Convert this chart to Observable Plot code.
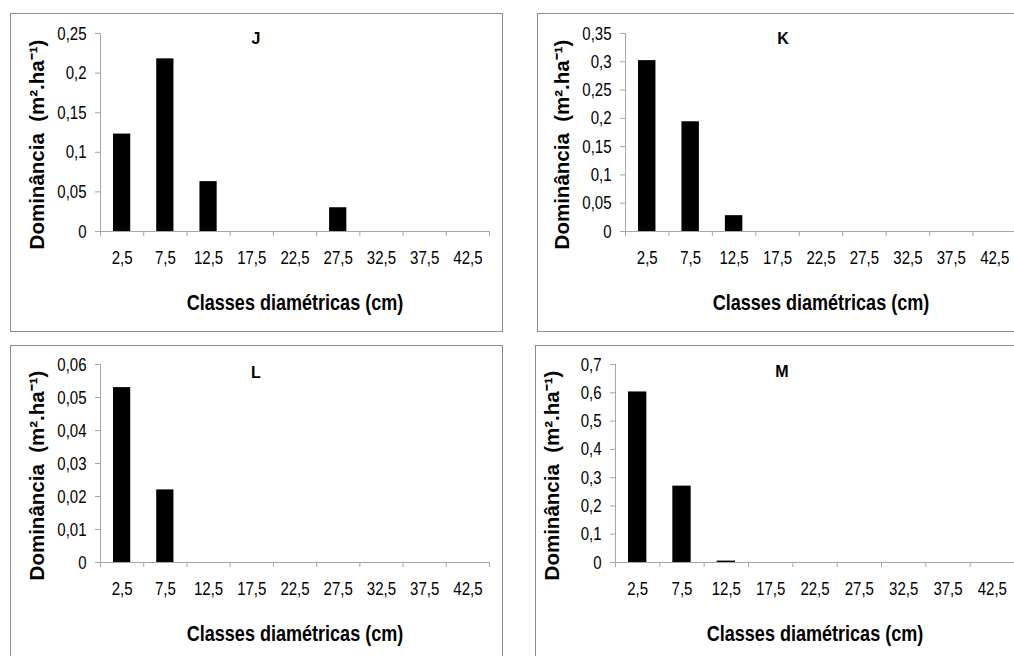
<!DOCTYPE html>
<html>
<head>
<meta charset="utf-8">
<script src="https://cdn.jsdelivr.net/npm/d3@7"></script>
<script src="https://cdn.jsdelivr.net/npm/@observablehq/plot@0.6"></script>
<style>
  html, body { margin: 0; padding: 0; background: #fff; }
  body { width: 1014px; height: 656px; overflow: hidden; position: relative; }
  .panel { position: absolute; border: 1px solid #8c8c8c; box-sizing: border-box; background: #fff; }
  .panel svg { position: absolute; left: 0; top: 0; overflow: visible; }
  .panel g[aria-label="x-axis label"] text {
    font-family: "Liberation Sans", Arial, sans-serif; font-weight: bold; font-size: 22px;
  }
</style>
</head>
<body>
<script>
// ---- data ----
const classes = [2.5, 7.5, 12.5, 17.5, 22.5, 27.5, 32.5, 37.5, 42.5];
const classLabels = ["2,5", "7,5", "12,5", "17,5", "22,5", "27,5", "32,5", "37,5", "42,5"];
const classEdges = [0, 5, 10, 15, 20, 25, 30, 35, 40, 45];

const valuesJ = [0.123, 0.218, 0.063, 0, 0, 0.030, 0, 0, 0];
const valuesK = [0.302, 0.194, 0.028, 0, 0, 0, 0, 0, 0];
const valuesL = [0.053, 0.022, 0, 0, 0, 0, 0, 0, 0];
const valuesM = [0.603, 0.270, 0.005, 0, 0, 0, 0, 0, 0];

const yTicksJ = [0, 0.05, 0.1, 0.15, 0.2, 0.25];
const yTicksK = [0, 0.05, 0.1, 0.15, 0.2, 0.25, 0.3, 0.35];
const yTicksL = [0, 0.01, 0.02, 0.03, 0.04, 0.05, 0.06];
const yTicksM = [0, 0.1, 0.2, 0.3, 0.4, 0.5, 0.6, 0.7];

const yTitle = "Dominância  (m².ha⁻¹)";
const xTitle = "Classes diamétricas (cm)";

// ---- layout / style ----
const FONT = '"Liberation Sans", Arial, sans-serif';
const AXIS = "#a6a6a6";
const binHalf = 2.5;
const NARROW = 0.79;

const panels = [
  {title: "J", values: valuesJ, yTicks: yTicksJ, left: 10, top: 13, ml: 89, mt: 19, tdx: -39, tdy: 5},
  {title: "K", values: valuesK, yTicks: yTicksK, left: 537, top: 13, ml: 87, mt: 19, tdx: -38, tdy: 5},
  {title: "L", values: valuesL, yTicks: yTicksL, left: 10, top: 345, ml: 89, mt: 18, tdx: -39, tdy: 8},
  {title: "M", values: valuesM, yTicks: yTicksM, left: 535, top: 345, ml: 79, mt: 18, tdx: -33, tdy: 7}
];

const fmtY = v => String(+v.toFixed(3)).replace(".", ",");

// horizontally condense text (Arial Narrow look) without moving its anchor
function condense(svg, selector, s) {
  svg.querySelectorAll(selector).forEach(t => {
    const tr = t.getAttribute("transform") || "";
    t.setAttribute("transform", `${tr} scale(${s},1)`.trim());
  });
}

for (const p of panels) {
  const div = document.createElement("div");
  div.className = "panel";
  div.style.left = p.left + "px";
  div.style.top = p.top + "px";
  div.style.width = "493px";
  div.style.height = "319px";
  document.body.appendChild(div);

  const W = 491, H = 317, PH = 198;
  const data = classes.map((c, i) => ({c, v: p.values[i]})).filter(d => d.v > 0);

  const chart = Plot.plot({
    width: W,
    height: H,
    marginLeft: p.ml,
    marginRight: 13,
    marginTop: p.mt,
    marginBottom: H - p.mt - PH,
    style: {fontFamily: FONT, fontSize: "19px", color: "#000", background: "transparent", overflow: "visible"},
    x: {domain: [classEdges[0], classEdges[classEdges.length - 1]]},
    y: {domain: [0, p.yTicks[p.yTicks.length - 1]]},
    marks: [
      Plot.rect(data, {x1: d => d.c - binHalf, x2: d => d.c + binHalf, y1: 0, y2: "v", fill: "#000", insetLeft: 13, insetRight: 13}),
      Plot.ruleY([0], {stroke: AXIS}),
      Plot.frame({anchor: "left", stroke: AXIS}),
      Plot.axisY({
        ticks: p.yTicks, tickFormat: fmtY, tickSize: 5, tickPadding: 9, stroke: AXIS, label: null
      }),
      Plot.axisX({ticks: classEdges, tickSize: 5, tickFormat: () => "", stroke: AXIS, label: null}),
      Plot.axisX({
        ticks: classes, tickSize: 0, tickPadding: 19,
        tickFormat: d => classLabels[classes.indexOf(d)],
        label: xTitle, labelAnchor: "center", labelOffset: 78, labelArrow: "none"
      }),
      Plot.text([yTitle], {frameAnchor: "left", rotate: -90, dx: -63, dy: 12, lineAnchor: "middle", textAnchor: "middle",
        fontWeight: "bold", fontSize: 20.5, fontFamily: FONT, fill: "#000"}),
      Plot.text([p.title], {frameAnchor: "top", dx: p.tdx, dy: p.tdy, lineAnchor: "middle", fontWeight: "bold", fontSize: 16, fill: "#000"})
    ]
  });
  condense(chart, 'g[aria-label="x-axis tick label"] text', NARROW);
  condense(chart, 'g[aria-label="y-axis tick label"] text', NARROW);
  condense(chart, 'g[aria-label="x-axis label"] text', 0.82);
  div.appendChild(chart);
}
</script>
</body>
</html>
